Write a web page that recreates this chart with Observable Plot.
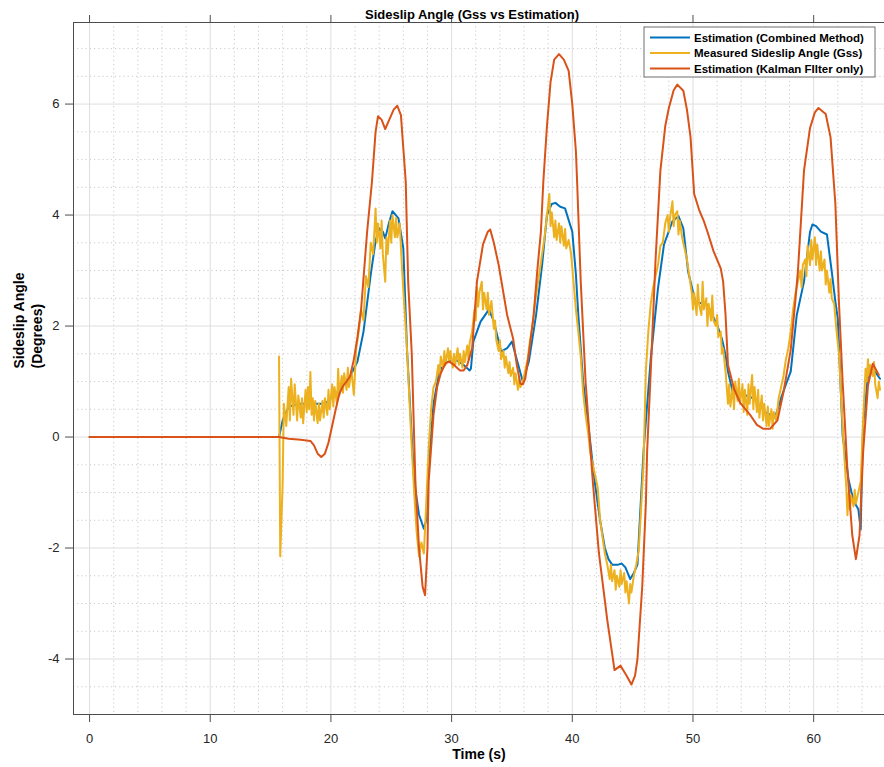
<!DOCTYPE html>
<html><head><meta charset="utf-8">
<script src="https://cdn.jsdelivr.net/npm/d3@7"></script>
<script src="https://cdn.jsdelivr.net/npm/@observablehq/plot@0.6"></script>
<style>body{margin:0;background:#fff}#chart{width:884px;height:767px}</style>
</head><body><div id="chart"></div>
<script>
const titleText = "Sideslip Angle (Gss vs Estimation)";
const xLabel = "Time (s)";
const yLabel = "Sideslip Angle\n(Degrees)";
const seriesNames = ["Estimation (Combined Method)", "Measured Sideslip Angle (Gss)", "Estimation (Kalman FIlter only)"];
const seriesColors = ["#0072BD", "#EDB120", "#D95319"];
const xTicks = [0, 10, 20, 30, 40, 50, 60];
const yTicks = [-4, -2, 0, 2, 4, 6];
const xDomain = [-1.33, 65.87];
const yDomain = [-5, 7.47];

// Estimation (Combined Method): [time, degrees]
const combined = [[0,0],[15.7,0],[16.0,0.3],[16.5,0.55],[17.5,0.6],[18.5,0.6],[19.5,0.6],[20.5,0.8],[21.0,0.95],[21.6,1.1],[22.2,1.36],[22.7,1.9],[23.3,2.93],[23.7,3.53],[24.0,3.76],[24.3,3.7],[24.5,3.58],[24.8,3.85],[25.1,4.07],[25.6,3.94],[26.0,3.4],[26.3,1.6],[26.6,0.4],[26.9,-0.8],[27.3,-1.4],[27.7,-1.65],[27.9,-1.5],[28.1,-0.5],[28.5,0.6],[29.0,1.2],[29.6,1.35],[30.3,1.4],[31.0,1.3],[31.5,1.2],[31.6,1.23],[31.8,1.72],[32.4,2.08],[33.1,2.3],[33.5,2.08],[34.1,1.54],[34.6,1.6],[35.0,1.72],[35.3,1.48],[35.9,1.0],[36.4,1.36],[37.0,2.2],[37.5,3.1],[37.9,4.0],[38.3,4.2],[38.6,4.22],[39.0,4.15],[39.4,4.12],[40.0,3.7],[40.3,2.93],[40.5,2.2],[40.9,1.0],[41.3,0.27],[41.7,-0.5],[41.9,-0.87],[42.3,-1.5],[42.7,-2.0],[43.0,-2.2],[43.3,-2.3],[43.8,-2.3],[44.1,-2.28],[44.4,-2.35],[44.8,-2.56],[45.1,-2.45],[45.4,-2.3],[45.6,-1.48],[45.9,-0.27],[46.5,1.41],[47.1,2.68],[47.6,3.47],[48.3,3.89],[48.8,3.98],[49.2,3.76],[49.6,2.98],[50.2,2.44],[51.2,2.38],[52.0,2.02],[52.4,1.77],[52.7,1.48],[52.9,1.18],[53.3,0.8],[54.0,0.78],[55.0,0.7],[56.0,0.45],[56.8,0.35],[57.3,0.7],[57.7,0.95],[58.1,1.18],[58.6,2.2],[59.2,2.8],[59.7,3.7],[59.9,3.83],[60.2,3.8],[60.6,3.7],[61.1,3.65],[61.5,2.98],[61.8,2.44],[62.0,2.13],[62.4,0.04],[62.9,-0.78],[63.3,-1.15],[63.7,-1.3],[63.9,-1.66],[64.0,-0.58],[64.1,0.22],[64.5,1.1],[65.0,1.2],[65.5,1.05]];

// Measured Sideslip Angle (Gss): [time, degrees]
const measured = [[15.7,1.45],[15.8,-2.15],[16.0,-0.84],[16.1,0.6],[16.3,0.2],[16.5,0.9],[16.6,0.3],[16.7,1.05],[16.9,0.4],[17.0,0.95],[17.2,0.3],[17.3,0.75],[17.5,0.35],[17.6,0.7],[17.7,0.25],[17.9,0.85],[18.0,0.45],[18.1,0.9],[18.2,0.5],[18.3,1.17],[18.4,0.4],[18.5,0.7],[18.6,0.3],[18.7,0.65],[18.9,0.25],[19.0,0.6],[19.1,0.3],[19.3,0.65],[19.4,0.35],[19.5,0.7],[19.7,0.4],[19.8,0.85],[19.9,0.5],[20.1,0.95],[20.2,0.55],[20.3,0.9],[20.5,0.6],[20.6,1.23],[20.7,0.75],[20.9,1.1],[21.0,0.8],[21.1,1.15],[21.3,0.85],[21.4,1.25],[21.5,0.9],[21.7,1.2],[21.9,0.76],[22.1,1.6],[22.3,1.9],[22.5,2.3],[22.7,2.1],[22.9,2.9],[23.1,2.7],[23.3,3.5],[23.5,3.3],[23.7,4.12],[23.8,3.5],[23.9,3.85],[24.1,3.4],[24.2,3.9],[24.3,3.3],[24.5,2.8],[24.6,3.6],[24.7,3.3],[24.9,3.9],[25.0,3.5],[25.1,4.0],[25.3,3.6],[25.4,3.95],[25.5,3.6],[25.7,3.85],[25.9,3.0],[26.1,2.3],[26.3,1.6],[26.5,0.7],[26.7,-0.2],[26.9,-1.0],[27.1,-1.7],[27.3,-2.15],[27.5,-1.9],[27.7,-2.1],[27.9,-1.2],[28.1,-0.2],[28.3,0.5],[28.5,0.9],[28.7,1.0],[28.9,1.3],[29.0,1.1],[29.1,1.45],[29.3,1.25],[29.4,1.55],[29.5,1.3],[29.7,1.6],[29.8,1.35],[29.9,1.55],[30.1,1.25],[30.2,1.5],[30.3,1.3],[30.5,1.6],[30.6,1.3],[30.7,1.5],[30.9,1.25],[31.0,1.55],[31.1,1.35],[31.3,1.65],[31.4,1.4],[31.5,1.7],[31.7,1.9],[31.9,2.3],[32.0,2.1],[32.1,2.7],[32.2,2.35],[32.3,2.6],[32.5,2.8],[32.6,2.3],[32.7,2.6],[32.9,2.3],[33.0,2.6],[33.1,2.2],[33.3,2.45],[33.5,1.95],[33.6,2.1],[33.7,1.75],[33.9,1.55],[34.0,1.75],[34.1,1.4],[34.3,1.55],[34.4,1.25],[34.5,1.45],[34.7,1.15],[34.8,1.35],[34.9,1.1],[35.1,1.25],[35.2,0.95],[35.3,1.15],[35.5,0.85],[35.6,1.05],[35.7,0.9],[35.9,1.0],[36.1,1.2],[36.3,1.4],[36.5,1.75],[36.7,2.0],[36.9,2.4],[37.1,2.7],[37.3,3.0],[37.5,3.3],[37.7,3.6],[37.9,4.0],[38.1,4.38],[38.2,3.8],[38.3,4.05],[38.5,3.6],[38.6,3.9],[38.7,3.55],[38.9,3.85],[39.0,3.5],[39.1,3.8],[39.3,3.45],[39.4,3.75],[39.5,3.4],[39.7,3.55],[39.9,3.3],[40.1,2.8],[40.3,2.3],[40.5,1.9],[40.7,1.45],[40.9,0.8],[41.1,0.4],[41.3,0.1],[41.5,-0.3],[41.7,-0.5],[41.9,-0.7],[42.1,-0.9],[42.3,-1.48],[42.5,-1.8],[42.7,-2.1],[42.9,-2.3],[43.1,-2.56],[43.2,-2.3],[43.3,-2.6],[43.5,-2.4],[43.6,-2.75],[43.7,-2.5],[43.9,-2.7],[44.0,-2.4],[44.1,-2.65],[44.3,-2.45],[44.4,-2.8],[44.5,-2.6],[44.7,-3.0],[44.8,-2.65],[44.9,-2.8],[45.1,-2.5],[45.3,-2.3],[45.5,-2.05],[45.7,-1.3],[45.9,-0.5],[46.1,1.2],[46.3,1.9],[46.5,2.4],[46.7,2.7],[46.9,2.9],[47.1,3.1],[47.3,3.45],[47.5,3.5],[47.7,3.85],[47.9,4.0],[48.0,3.7],[48.1,3.95],[48.3,4.25],[48.4,3.8],[48.5,4.0],[48.7,4.07],[48.8,3.65],[48.9,3.9],[49.1,3.6],[49.3,3.4],[49.5,3.2],[49.7,2.9],[49.9,2.6],[50.0,2.3],[50.1,2.6],[50.3,2.2],[50.4,2.75],[50.5,2.4],[50.7,2.2],[50.8,2.8],[50.9,2.3],[51.1,2.5],[51.2,2.0],[51.3,2.4],[51.5,2.1],[51.6,2.55],[51.7,2.1],[51.9,2.0],[52.0,2.2],[52.1,1.8],[52.3,1.9],[52.4,1.5],[52.5,1.6],[52.7,1.18],[52.9,0.6],[53.0,0.95],[53.1,0.55],[53.3,0.9],[53.4,0.5],[53.5,1.0],[53.7,0.65],[53.8,1.05],[53.9,0.6],[54.1,0.95],[54.2,0.45],[54.3,0.85],[54.5,0.4],[54.6,0.95],[54.7,0.6],[54.9,1.12],[55.0,0.5],[55.1,0.9],[55.3,0.45],[55.4,0.85],[55.5,0.35],[55.7,0.75],[55.8,0.3],[55.9,0.6],[56.1,0.2],[56.2,0.55],[56.3,0.2],[56.5,0.5],[56.6,0.15],[56.7,0.45],[56.9,0.3],[57.1,0.7],[57.3,0.9],[57.5,1.1],[57.7,1.4],[57.9,1.6],[58.1,1.9],[58.3,2.3],[58.5,2.6],[58.7,2.8],[58.9,3.0],[59.0,2.7],[59.1,3.1],[59.3,3.2],[59.4,2.9],[59.5,3.45],[59.7,3.1],[59.8,3.55],[59.9,3.2],[60.1,3.6],[60.2,3.1],[60.3,3.47],[60.5,3.0],[60.6,3.35],[60.7,3.0],[60.9,3.2],[61.0,2.75],[61.1,3.0],[61.3,2.6],[61.4,2.85],[61.5,2.5],[61.7,2.4],[61.9,1.9],[62.1,1.5],[62.3,0.6],[62.5,-0.2],[62.7,-0.9],[62.8,-1.41],[62.9,-1.0],[63.0,-1.3],[63.1,-1.05],[63.3,-1.25],[63.4,-0.95],[63.5,-1.2],[63.7,-1.0],[63.9,-0.8],[64.1,0.3],[64.3,1.23],[64.4,1.0],[64.5,1.4],[64.6,1.1],[64.7,1.3],[64.9,1.1],[65.0,1.35],[65.1,0.95],[65.3,0.7],[65.4,1.0],[65.5,0.85]];

// Estimation (Kalman Filter only): [time, degrees]
const kalman = [[0,0],[15.7,0],[16.5,-0.03],[17.5,-0.05],[18.3,-0.07],[18.6,-0.15],[18.9,-0.3],[19.2,-0.36],[19.5,-0.3],[19.8,-0.1],[20.1,0.2],[20.4,0.5],[20.7,0.78],[21.0,0.92],[21.3,1.0],[21.6,1.1],[21.9,1.4],[22.2,1.8],[22.5,2.3],[23.0,3.7],[23.4,4.6],[23.7,5.5],[23.9,5.78],[24.2,5.72],[24.5,5.55],[24.8,5.7],[25.2,5.9],[25.5,5.97],[25.8,5.8],[26.0,5.2],[26.2,4.6],[26.4,2.8],[26.7,1.5],[27.0,-0.8],[27.3,-2.0],[27.6,-2.7],[27.8,-2.85],[28.0,-2.0],[28.1,-0.8],[28.5,0.4],[28.8,0.9],[29.1,1.15],[29.5,1.33],[29.8,1.36],[30.2,1.3],[30.7,1.2],[31.0,1.2],[31.3,1.3],[31.7,1.6],[32.1,2.8],[32.6,3.47],[33.0,3.7],[33.2,3.74],[33.5,3.5],[33.9,3.1],[34.6,2.2],[35.1,1.77],[35.4,1.3],[35.7,0.96],[35.9,0.95],[36.1,1.05],[36.4,1.5],[36.8,2.2],[37.1,3.0],[37.4,3.7],[37.6,4.6],[37.9,5.6],[38.2,6.4],[38.5,6.8],[38.9,6.9],[39.3,6.8],[39.7,6.6],[40.0,6.0],[40.3,5.15],[40.4,4.6],[40.7,2.8],[41.1,1.0],[41.7,-0.8],[42.2,-2.08],[42.9,-3.3],[43.3,-3.9],[43.5,-4.2],[44.0,-4.12],[44.5,-4.3],[44.9,-4.46],[45.2,-4.3],[45.4,-4.0],[45.8,-2.68],[46.1,-1.18],[46.2,-0.27],[46.5,1.18],[46.9,3.2],[47.3,4.8],[47.7,5.6],[48.0,5.93],[48.4,6.25],[48.7,6.35],[49.2,6.24],[49.5,5.9],[49.8,5.4],[50.1,4.38],[50.5,4.1],[50.9,3.89],[51.2,3.7],[51.7,3.35],[52.3,3.04],[52.5,2.8],[52.7,2.2],[52.9,1.3],[53.4,0.87],[53.9,0.62],[54.8,0.38],[55.3,0.22],[55.8,0.15],[56.4,0.15],[57.0,0.3],[57.5,0.81],[58.1,1.57],[58.5,2.5],[58.7,3.0],[59.2,4.8],[59.7,5.57],[60.1,5.85],[60.4,5.93],[61.0,5.82],[61.4,5.4],[61.8,4.2],[62.1,2.4],[62.4,1.0],[62.8,-0.6],[63.2,-1.77],[63.5,-2.2],[63.8,-1.77],[64.1,-0.27],[64.5,0.93],[64.9,1.32],[65.4,1.12]];

const seriesData = [combined, measured, kalman];

const xMinor = d3.range(0, 66, 2).filter(v => v % 10 !== 0);
const yMinor = d3.range(-4.5, 7.5, 0.5).filter(v => v % 2 !== 0);

const axisColor = "#4d4d4d";
const font = "'Liberation Sans', Arial, Helvetica, sans-serif";

const chart = Plot.plot({
  width: 884, height: 767,
  marginLeft: 73, marginRight: 0, marginTop: 22, marginBottom: 53,
  style: {fontFamily: font, fontSize: "13px", color: "#262626", background: "#fff", overflow: "visible"},
  x: {domain: xDomain},
  y: {domain: yDomain},
  marks: [
    Plot.ruleX(xMinor, {stroke: "#c4c4c4", strokeDasharray: "1.2,3", strokeWidth: 0.9}),
    Plot.ruleY(yMinor, {stroke: "#c4c4c4", strokeDasharray: "1.2,3", strokeWidth: 0.9}),
    Plot.ruleX(xTicks, {stroke: "#dedede", strokeWidth: 1}),
    Plot.ruleY(yTicks, {stroke: "#dedede", strokeWidth: 1}),
    ...seriesData.map((data, i) => Plot.line(data, {x: d => d[0], y: d => d[1], stroke: seriesColors[i], strokeWidth: 2, strokeLinejoin: "round"})),
    Plot.ruleX([xDomain[0]], {stroke: axisColor, strokeWidth: 1}),
    Plot.ruleY([yDomain[0], yDomain[1]], {stroke: axisColor, strokeWidth: 1}),
    Plot.axisX(xTicks, {anchor: "bottom", tickSize: 8, tickPadding: 11, tickFormat: d => String(d), label: null, stroke: axisColor, fill: "#262626", fontSize: 13}),
    Plot.axisX(xTicks, {anchor: "top", tickSize: 8, tickFormat: () => "", label: null, stroke: axisColor}),
    Plot.axisY(yTicks, {anchor: "left", tickSize: 8, tickPadding: 6, tickFormat: d => String(d), label: null, stroke: axisColor, fill: "#262626", fontSize: 13}),
    Plot.text([titleText], {frameAnchor: "top", dx: -7, dy: -13, fontWeight: "bold", fontSize: 13, fill: "#000"}),
    Plot.text([xLabel], {frameAnchor: "bottom", dy: 44, fontWeight: "bold", fontSize: 14, fill: "#000"}),
    Plot.text([yLabel], {frameAnchor: "left", dx: -46, rotate: -90, fontWeight: "bold", fontSize: 14, lineHeight: 1.25, fill: "#000"})
  ]
});
document.getElementById("chart").appendChild(chart);

// Legend (inside the axes, top-right)
const svg = d3.select(chart);
const lg = svg.append("g").attr("transform", "translate(644,27)");
lg.append("rect").attr("width", 231).attr("height", 50).attr("fill", "#fff").attr("stroke", "#6e6e6e").attr("stroke-width", 1);
seriesNames.forEach((name, i) => {
  const y = 10.5 + i * 15.5;
  lg.append("line").attr("x1", 6).attr("x2", 46).attr("y1", y).attr("y2", y).attr("stroke", seriesColors[i]).attr("stroke-width", 2);
  lg.append("text").attr("x", 50).attr("y", y).attr("dy", "0.35em").attr("text-anchor", "start").attr("font-family", font).attr("font-weight", "bold").attr("font-size", 11.5).attr("fill", "#000").text(name);
});
</script></body></html>
